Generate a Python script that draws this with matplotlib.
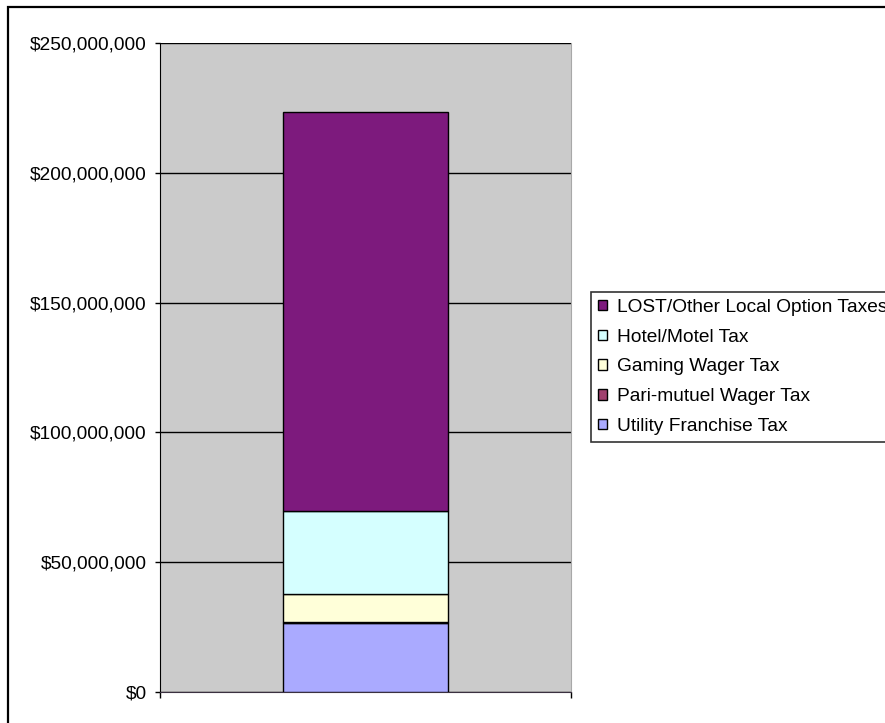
import matplotlib
matplotlib.use("Agg")
import matplotlib.pyplot as plt
from matplotlib.patches import Rectangle, Patch
from matplotlib.ticker import FuncFormatter

plt.rcParams['font.family'] = ['Liberation Sans', 'DejaVu Sans']

categories = [""]
series_names = ["Utility Franchise Tax", "Pari-mutuel Wager Tax", "Gaming Wager Tax",
                "Hotel/Motel Tax", "LOST/Other Local Option Taxes"]
utility = [26.7e6]
parimutuel = [0.1e6]
gaming = [10.8e6]
hotel = [32.3e6]
lost = [153.6e6]
values = [utility, parimutuel, gaming, hotel, lost]
colors = ["#AAAAFF", "#A0406E", "#FFFFD9", "#D5FFFF", "#7D1A7D"]
yticks = [0, 50e6, 100e6, 150e6, 200e6, 250e6]

W, H = 885, 723
FS = 13.8
fig = plt.figure(figsize=(W / 100, H / 100), dpi=100)
ax = fig.add_axes([160 / W, (H - 692) / H, (571 - 160) / W, (692 - 43) / H])
ax.set_facecolor("#CBCBCB")

bottom = [0.0] * len(categories)
handles = []
for name, vals, col in zip(series_names, values, colors):
    ax.bar(range(len(categories)), vals, width=0.4, bottom=bottom, color=col,
           edgecolor="black", linewidth=1, zorder=3)
    bottom = [b + v for b, v in zip(bottom, vals)]
    handles.append(Patch(facecolor=col, edgecolor="black", linewidth=1, label=name))

ax.set_xlim(-0.5, 0.5)
ax.set_ylim(0, 250e6)
ax.set_yticks(yticks)
ax.yaxis.set_major_formatter(FuncFormatter(lambda v, p: "${:,.0f}".format(v)))
ax.yaxis.grid(True, color="black", linewidth=1, zorder=1)
ax.set_axisbelow(True)
ax.tick_params(axis="y", direction="out", length=3.6, width=1, pad=6.0,
               labelsize=FS, colors="black")
ax.set_xticks([-0.5, 0.5])
ax.set_xticklabels(["", ""])
ax.tick_params(axis="x", direction="out", length=4, width=1)
ax.spines["top"].set_visible(False)
ax.spines["right"].set_color("#A8A8A8")
ax.spines["left"].set_color("black")
ax.spines["bottom"].set_color("#3a3040")

leg = fig.legend(handles=handles[::-1], loc="lower left",
                 bbox_to_anchor=(591 / W, (H - 442) / H),
                 frameon=True, fancybox=False, fontsize=FS,
                 handlelength=0.45, handleheight=0.45, handletextpad=0.55,
                 labelspacing=0.67, borderpad=0.36, borderaxespad=0)
leg.get_frame().set_edgecolor("black")
leg.get_frame().set_linewidth(1.2)

fig.patches.append(Rectangle((8 / W, -0.05), 1.1, (H - 7) / H + 0.05,
                             transform=fig.transFigure, fill=False,
                             edgecolor="black", linewidth=1.6))

fig.savefig("out.png", dpi=100)
